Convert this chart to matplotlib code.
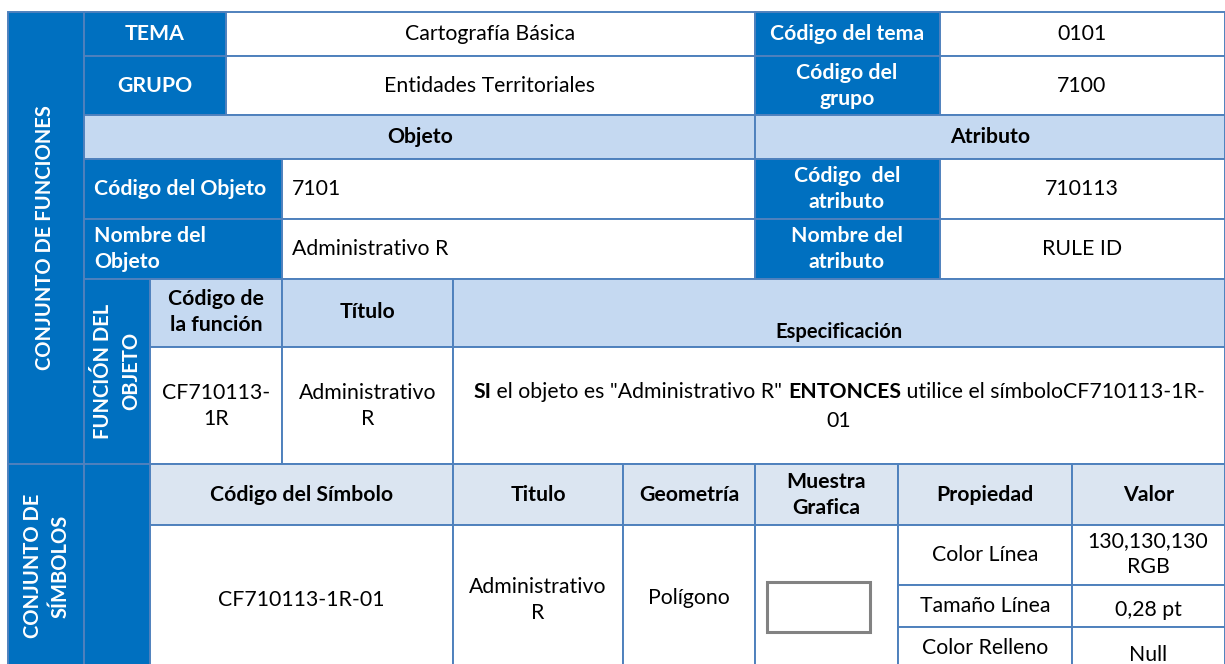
import matplotlib
matplotlib.use("Agg")
import matplotlib.pyplot as plt
from matplotlib.patches import Rectangle

# ---- content ----
tema = "Cartografía Básica"
codigo_tema = "0101"
grupo = "Entidades Territoriales"
codigo_grupo = "7100"
codigo_objeto = "7101"
nombre_objeto = "Administrativo R"
codigo_atributo = "710113"
nombre_atributo = "RULE ID"
func_codigo = "CF710113-\n1R"
func_titulo = "Administrativo\nR"
spec_parts = [("SI", True), (" el objeto es \"Administrativo R\" ", False),
              ("ENTONCES", True), (" utilice el símboloCF710113-1R-", False)]
spec_line2 = "01"
sym_headers = ["Código del Símbolo", "Titulo", "Geometría", "Muestra\nGrafica", "Propiedad", "Valor"]
sym_codigo = "CF710113-1R-01"
sym_titulo = "Administrativo\nR"
sym_geom = "Polígono"
propiedades = ["Color Línea", "Tamaño Línea", "Color Relleno"]
valores = ["130,130,130\nRGB", "0,28 pt", "Null"]

DARK = "#0070C0"
LIGHT = "#C5D9F1"
LIGHT2 = "#DBE5F1"
EDGE = "#4F81BD"
FONT = "Lato"
FS = 15.3
LS = 1.42

fig = plt.figure(figsize=(12.25, 6.64), dpi=100)
ax = fig.add_axes([0, 0, 1, 1])
ax.set_xlim(0, 1225)
ax.set_ylim(664, 0)
ax.axis("off")


def cell(x0, x1, y0, y1, fc="white"):
    ax.add_patch(Rectangle((x0, y0), x1 - x0, y1 - y0, facecolor=fc,
                           edgecolor=EDGE, linewidth=1.4, zorder=1))


def txt(x, y, s, color="black", bold=False, ha="center", rot=0, fs=FS, ls=LS):
    ax.text(x, y, s, color=color, fontweight="bold" if bold else "normal",
            ha=ha, va="center", rotation=rot, fontsize=fs, family=FONT,
            linespacing=ls, zorder=3)


BOT = 700
# left vertical band
cell(8, 84, 12, 464, DARK)
cell(8, 84, 464, BOT, DARK)
txt(45, 238, "CONJUNTO DE FUNCIONES", color="white", bold=True, rot=90, fs=14.5)
txt(47, 566, "CONJUNTO DE\nSÍMBOLOS", color="white", bold=True, rot=90, fs=14.5, ls=1.5)

# row TEMA
cell(84, 226, 12, 56, DARK); txt(155, 34, "TEMA", "white", True)
cell(226, 755, 12, 56); txt(490, 34, tema)
cell(755, 940, 12, 56, DARK); txt(847, 34, "Código del tema", "white", True)
cell(940, 1225, 12, 56); txt(1082, 34, codigo_tema)
# row GRUPO
cell(84, 226, 56, 115, DARK); txt(155, 86, "GRUPO", "white", True)
cell(226, 755, 56, 115); txt(490, 86, grupo)
cell(755, 940, 56, 115, DARK); txt(847, 86, "Código del\ngrupo", "white", True)
cell(940, 1225, 56, 115); txt(1082, 86, codigo_grupo)
# Objeto / Atributo header
cell(84, 755, 115, 159, LIGHT); txt(420, 137, "Objeto", bold=True)
cell(755, 1225, 115, 159, LIGHT); txt(990, 137, "Atributo", bold=True)
# Código del objeto
cell(84, 282, 159, 219, DARK); txt(94, 189, "Código del Objeto", "white", True, ha="left")
cell(282, 755, 159, 219); txt(292, 189, codigo_objeto, ha="left")
cell(755, 940, 159, 219, DARK); txt(847, 189, "Código  del\natributo", "white", True)
cell(940, 1225, 159, 219); txt(1082, 189, codigo_atributo)
# Nombre del objeto
cell(84, 282, 219, 279, DARK); txt(94, 249, "Nombre del\nObjeto", "white", True, ha="left")
cell(282, 755, 219, 279); txt(292, 249, nombre_objeto, ha="left")
cell(755, 940, 219, 279, DARK); txt(847, 249, "Nombre del\natributo", "white", True)
cell(940, 1225, 219, 279); txt(1082, 249, nombre_atributo)
# Function block
cell(84, 150, 279, 464, DARK)
txt(117, 371, "FUNCIÓN DEL\nOBJETO", "white", True, rot=90, fs=14.5, ls=1.5)
cell(150, 282, 279, 347, LIGHT); txt(216, 312, "Código de\nla función", bold=True)
cell(282, 453, 279, 347, LIGHT); txt(368, 312, "Título", bold=True)
cell(453, 1225, 279, 347, LIGHT); txt(839, 332, "Especificación", bold=True, fs=14.5)
cell(150, 282, 347, 464); txt(216, 406, func_codigo)
cell(282, 453, 347, 464); txt(368, 406, func_titulo)
cell(453, 1225, 347, 464)

# mixed bold/regular spec line, centered in the cell
renderer = fig.canvas.get_renderer()
pieces = []
for s, b in spec_parts:
    t = ax.text(0, 392, s, fontsize=FS, family=FONT,
                fontweight="bold" if b else "normal", ha="left", va="center", zorder=3)
    pieces.append(t)
widths = [p.get_window_extent(renderer).width for p in pieces]
total = sum(widths)
x = 839 - total / 2
for p, w in zip(pieces, widths):
    p.set_x(x)
    x += w
txt(839, 421, spec_line2)

# Symbol block
cell(84, 150, 464, BOT, DARK)
xs = [150, 453, 623, 755, 898, 1072, 1225]
for i, h in enumerate(sym_headers):
    cell(xs[i], xs[i + 1], 464, 525, LIGHT2)
    txt((xs[i] + xs[i + 1]) / 2, 495, h, bold=True)
cell(150, 453, 525, BOT); txt(301, 600, sym_codigo)
cell(453, 623, 525, BOT); txt(538, 600, sym_titulo)
cell(623, 755, 525, BOT); txt(689, 598, sym_geom)
cell(755, 898, 525, BOT)
ax.add_patch(Rectangle((767, 582), 103, 50, facecolor="white",
                       edgecolor="#828282", linewidth=2.2, zorder=2))
rows = [(525, 585), (585, 627), (627, BOT)]
prop_y = [555, 606, 648]
val_y = [554, 610, 655]
for (y0, y1), p, v, py, vy in zip(rows, propiedades, valores, prop_y, val_y):
    cell(898, 1072, y0, y1); txt(985, py, p)
    cell(1072, 1225, y0, y1); txt(1148, vy, v)

fig.savefig("out.png", dpi=100)
